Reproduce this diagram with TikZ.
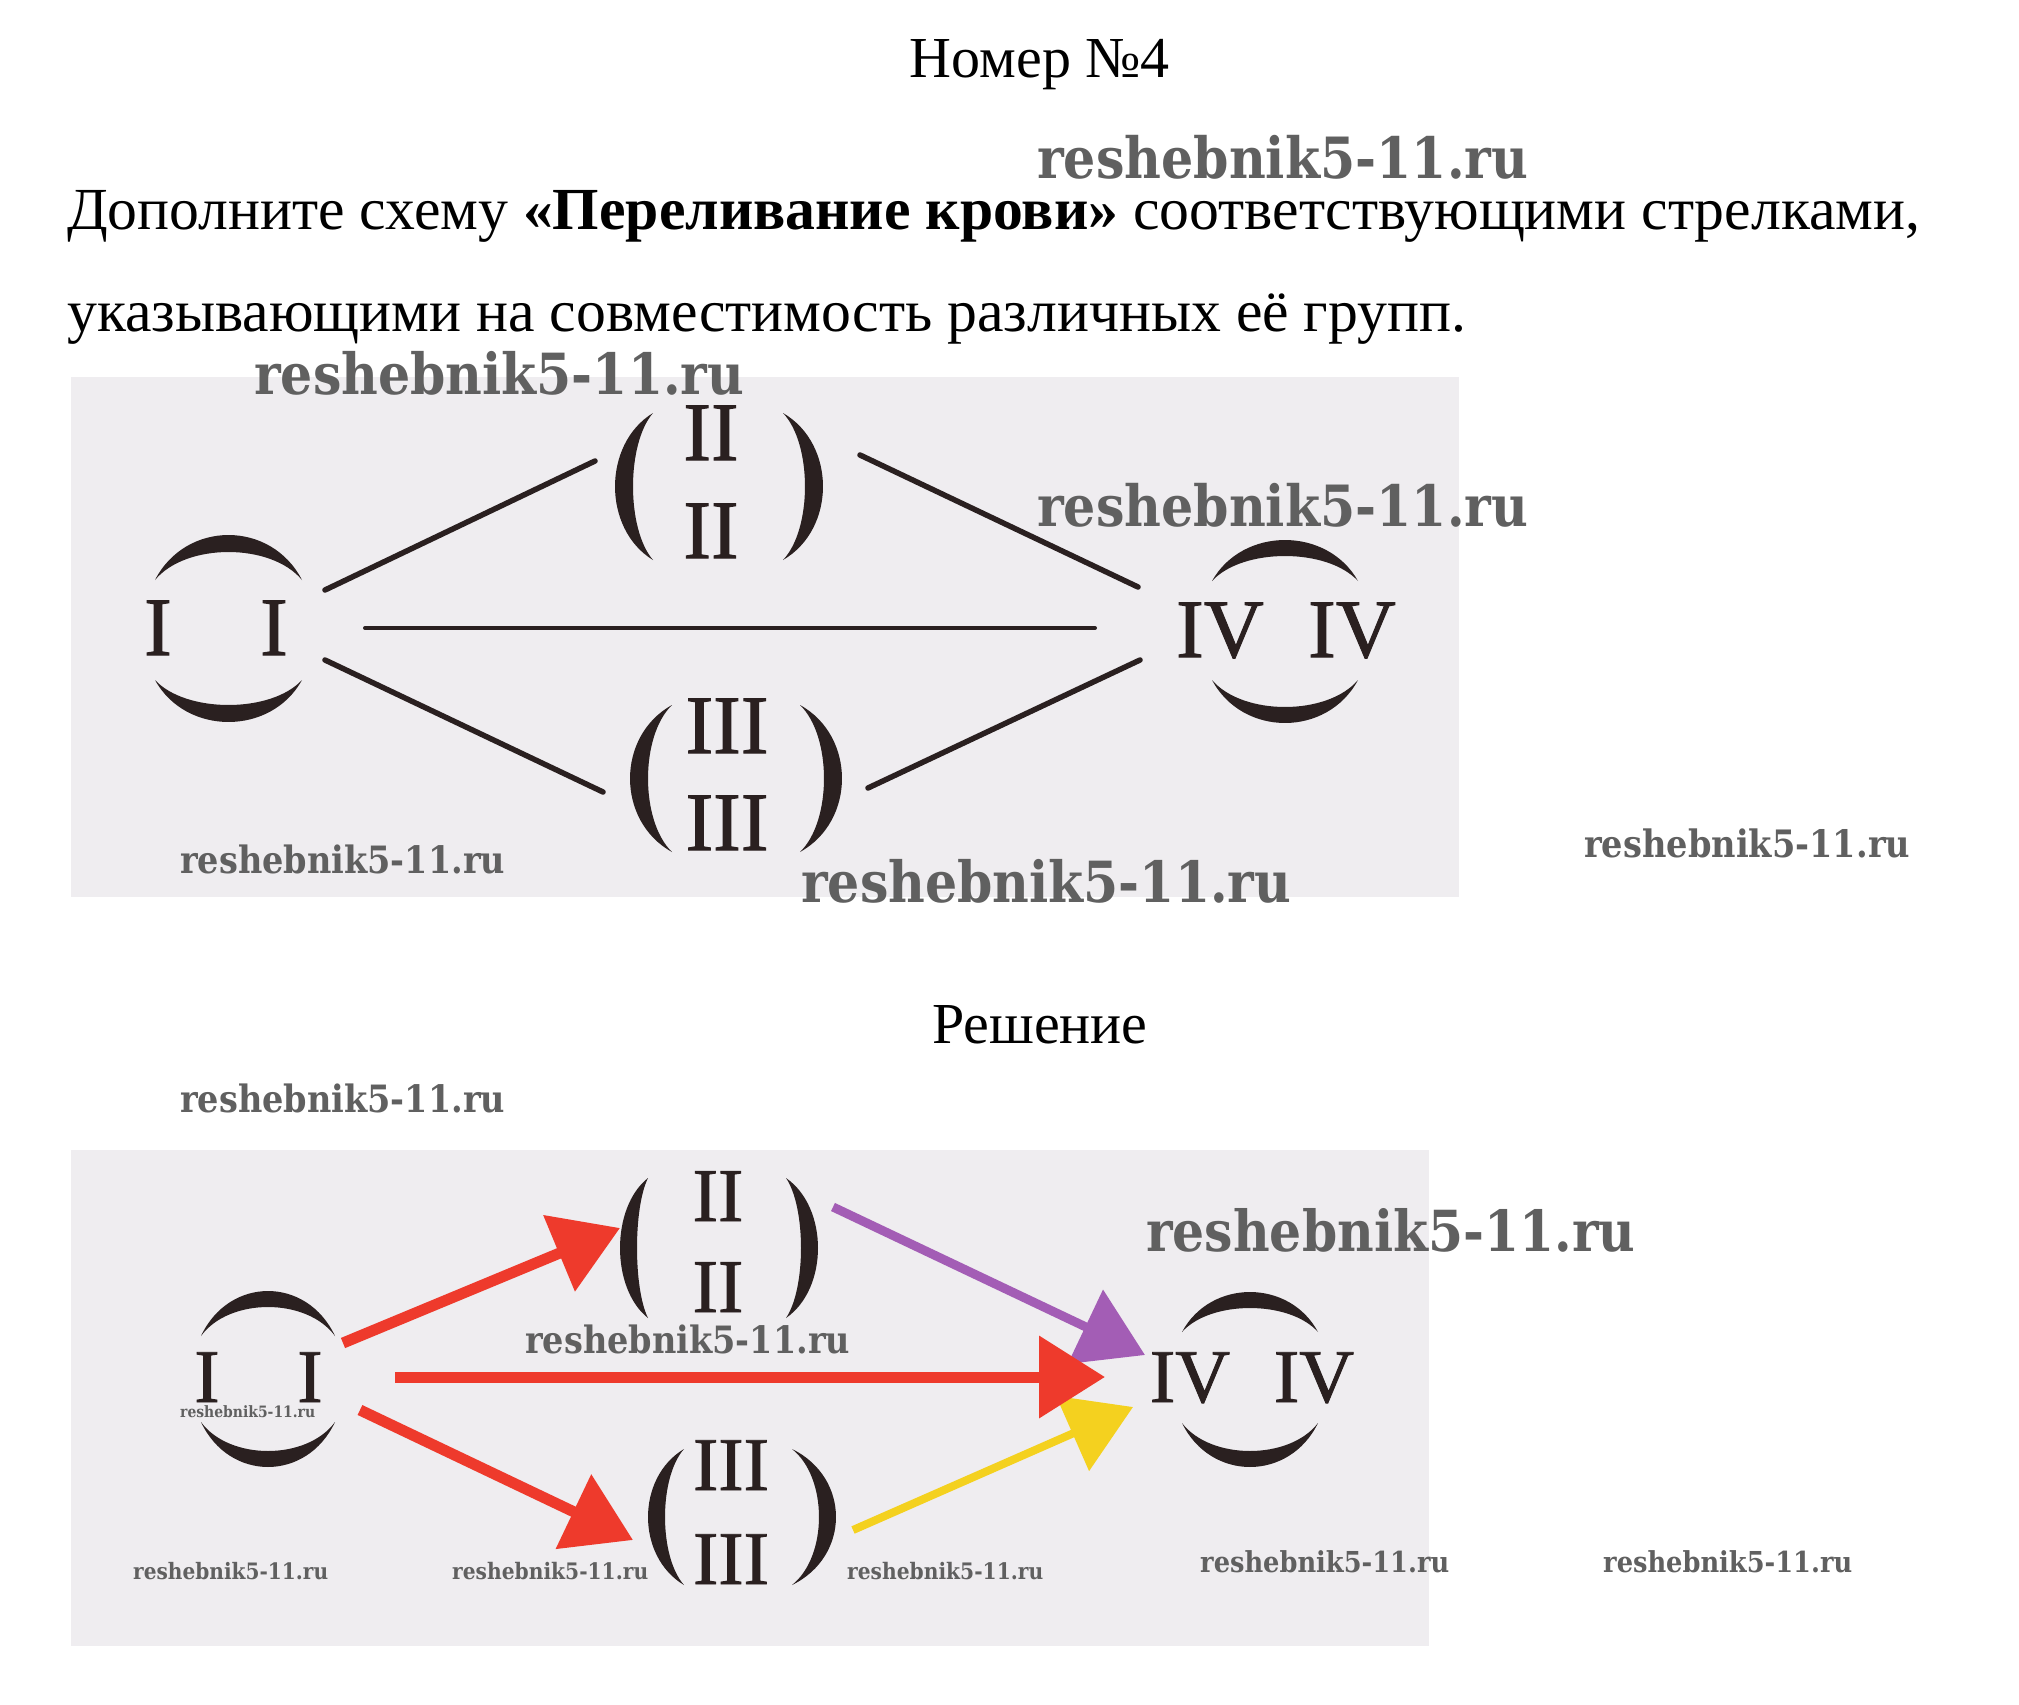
\documentclass[tikz,border=0pt]{standalone}
\usepackage{fontspec}
\setmainfont{Liberation Serif}
\newfontfamily\wmfont{DejaVu Serif}
\newfontfamily\numfont{Liberation Serif}[FakeBold=1.2]
\usetikzlibrary{arrows.meta}
\definecolor{ink}{HTML}{2A2020}
\definecolor{bgA}{HTML}{EFEDF0}
\definecolor{redA}{HTML}{EE3A2C}
\definecolor{purA}{HTML}{A35DB5}
\definecolor{yelA}{HTML}{F4D11F}
\definecolor{wm}{HTML}{606060}
\newcommand\wmtext[1]{\resizebox{#1pt}{0.088\dimexpr #1pt\relax}{\wmfont\bfseries reshebnik5-11.ru}}
% arc above: cx, yend, halfwidth, height, thickness
\newcommand\capup[5]{\fill[ink] ({#1-#3},#2) .. controls ({#1-0.58*#3},{#2-1.333*#4}) and ({#1+0.58*#3},{#2-1.333*#4}) .. ({#1+#3},#2) .. controls ({#1+0.58*#3},{#2-1.333*(#4-#5)}) and ({#1-0.58*#3},{#2-1.333*(#4-#5)}) .. cycle;}
\newcommand\capdn[5]{\fill[ink] ({#1-#3},#2) .. controls ({#1-0.58*#3},{#2+1.333*#4}) and ({#1+0.58*#3},{#2+1.333*#4}) .. ({#1+#3},#2) .. controls ({#1+0.58*#3},{#2+1.333*(#4-#5)}) and ({#1-0.58*#3},{#2+1.333*(#4-#5)}) .. cycle;}
% paren: xend, cy, halfheight, bulge, thickness
\newcommand\parL[5]{\fill[ink] (#1,{#2-#3}) .. controls ({#1-1.333*#4},{#2-0.58*#3}) and ({#1-1.333*#4},{#2+0.58*#3}) .. (#1,{#2+#3}) .. controls ({#1-1.333*(#4-#5)},{#2+0.58*#3}) and ({#1-1.333*(#4-#5)},{#2-0.58*#3}) .. cycle;}
\newcommand\parR[5]{\fill[ink] (#1,{#2-#3}) .. controls ({#1+1.333*#4},{#2-0.58*#3}) and ({#1+1.333*#4},{#2+0.58*#3}) .. (#1,{#2+#3}) .. controls ({#1+1.333*(#4-#5)},{#2+0.58*#3}) and ({#1+1.333*(#4-#5)},{#2-0.58*#3}) .. cycle;}
\tikzset{
  num/.style={font=\numfont\fontsize{83}{90}\selectfont, text=ink, inner sep=0pt, anchor=base},
  numb/.style={font=\numfont\fontsize{76}{84}\selectfont, text=ink, inner sep=0pt, anchor=base},
  link/.style={line width=5.5pt, draw=ink, line cap=round},
  hlink/.style={line width=4pt, draw=ink, line cap=round},
  arr/.style={line width=11pt, -{Triangle[length=66pt,width=80pt]}},
  title/.style={font=\fontsize{58}{70}\selectfont, inner sep=0pt},
  qline/.style={font=\fontsize{59.7}{70}\selectfont, inner sep=0pt, anchor=base west},
  wmark/.style={inner sep=0pt, anchor=west, text=wm},
}
\begin{document}
\begin{tikzpicture}[x=1pt,y=-1pt]
\useasboundingbox (0,0) rectangle (2019,1705);
\fill[white] (0,0) rectangle (2019,1705);
% texts
\node[title, anchor=base] (hdr) at (1040,77) {Номер №4};
\node[qline] (q1) at (67,229) {Дополните схему \textbf{«Переливание крови»} соответствующими стрелками,};
\node[qline] (q2) at (67,331) {указывающими на совместимость различных её групп.};
\node[title, anchor=base] (sol) at (1040,1043) {Решение};
% backgrounds
\fill[bgA] (71,377) rectangle (1459,897);
\fill[bgA] (71,1150) rectangle (1429,1646);
% ---------- top diagram ----------
\node[num] (tI1) at (158,655) {I};
\node[num] (tI2) at (274,655) {I};
\capup{228.5}{580}{73.5}{45}{17}
\capdn{228.5}{680}{73.5}{42}{17}
\node[num] (tIV1) at (1220,657) {IV};
\node[num] (tIV2) at (1352,657) {IV};
\capup{1285}{581}{73}{41}{16}
\capdn{1285}{680}{73}{43}{16}
\node[num] (tII1) at (711,460) {II};
\node[num] (tII2) at (711,558) {II};
\parL{653}{486.5}{73.5}{38}{18}
\parR{783}{486.5}{73.5}{40}{18}
\node[num] (tIII1) at (727,753) {III};
\node[num] (tIII2) at (727,850) {III};
\parL{672}{778.5}{73.5}{42}{18}
\parR{800}{778.5}{73.5}{42}{18}
\coordinate (tIa) at (325,590); \coordinate (tIIa) at (595,461);
\coordinate (tIb) at (365,628); \coordinate (tIVb) at (1095,628);
\coordinate (tIc) at (325,660); \coordinate (tIIIc) at (603,792);
\coordinate (tIIb) at (860,455); \coordinate (tIVa) at (1138,587);
\coordinate (tIIIb) at (868,788); \coordinate (tIVc) at (1140,660);
\draw[link] (tIa) -- (tIIa);
\draw[hlink] (tIb) -- (tIVb);
\draw[link] (tIc) -- (tIIIc);
\draw[link] (tIIb) -- (tIVa);
\draw[link] (tIIIb) -- (tIVc);
% ---------- bottom diagram ----------
\node[numb] (bI1) at (207,1402) {I};
\node[numb] (bI2) at (310,1402) {I};
\capup{268}{1336}{67}{45}{16}
\capdn{268}{1422}{67}{45}{16}
\node[numb] (bIV1) at (1190,1402) {IV};
\node[numb] (bIV2) at (1314,1402) {IV};
\capup{1250}{1332}{68}{40}{16}
\capdn{1250}{1423}{68}{44}{16}
\node[numb] (bII1) at (718,1221) {II};
\node[numb] (bII2) at (718,1312) {II};
\parL{648}{1248}{70}{28}{17}
\parR{786}{1248}{70}{32}{17}
\node[numb] (bIII1) at (731,1490) {III};
\node[numb] (bIII2) at (731,1584) {III};
\parL{684}{1517}{68}{36}{17}
\parR{792}{1517}{68}{44}{17}
\coordinate (bIa) at (343,1343); \coordinate (bIIa) at (620,1228);
\coordinate (bIb) at (395,1377); \coordinate (bIVb) at (1105,1377);
\coordinate (bIc) at (360,1410); \coordinate (bIIIa) at (633,1540);
\coordinate (bIIb) at (833,1207); \coordinate (bIVa) at (1145,1355);
\coordinate (bIIIb) at (853,1530); \coordinate (bIVc) at (1133,1407);
\draw[arr, draw=purA, fill=purA, line width=9pt] (bIIb) -- (bIVa);
\draw[arr, draw=yelA, fill=yelA, line width=8pt] (bIIIb) -- (bIVc);
\draw[arr, draw=redA, fill=redA] (bIa) -- (bIIa);
\draw[arr, draw=redA, fill=redA] (bIb) -- (bIVb);
\draw[arr, draw=redA, fill=redA] (bIc) -- (bIIIa);
% ---------- watermarks ----------
\node[wmark] (w1) at (1037,157) {\wmtext{491}};
\node[wmark] (w2) at (254,373) {\wmtext{490}};
\node[wmark] (w3) at (1037,505) {\wmtext{491}};
\node[wmark] (w4) at (180,859) {\wmtext{325}};
\node[wmark] (w5) at (801,881) {\wmtext{490}};
\node[wmark] (w6) at (1584,843) {\wmtext{326}};
\node[wmark] (w7) at (180,1098) {\wmtext{325}};
\node[wmark] (w8) at (525,1339) {\wmtext{325}};
\node[wmark] (w9) at (1146,1230) {\wmtext{489}};
\node[wmark] (w10) at (180,1412) {\wmtext{135}};
\node[wmark] (w11) at (133,1571) {\wmtext{195}};
\node[wmark] (w12) at (452,1571) {\wmtext{196}};
\node[wmark] (w13) at (847,1571) {\wmtext{196}};
\node[wmark] (w14) at (1200,1562) {\wmtext{249}};
\node[wmark] (w15) at (1603,1562) {\wmtext{249}};
\end{tikzpicture}
\end{document}
